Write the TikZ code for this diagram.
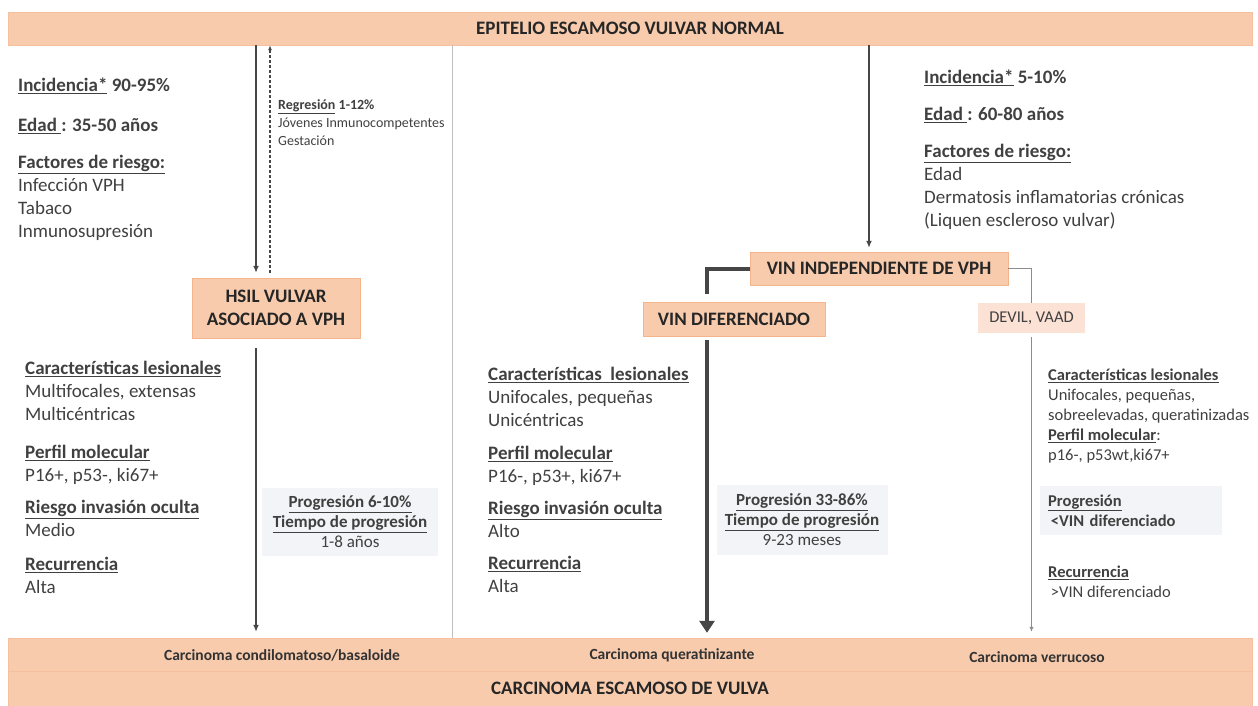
\documentclass[tikz,border=0pt]{standalone}
\usepackage{fontspec}
\setmainfont{Carlito}
\usetikzlibrary{positioning,arrows.meta}
\definecolor{peach}{RGB}{248,203,173}
\definecolor{peachline}{RGB}{244,180,140}
\definecolor{peachedge}{RGB}{246,192,158}
\definecolor{peachlight}{RGB}{251,226,213}
\definecolor{greybox}{RGB}{242,244,247}
\definecolor{txt}{RGB}{64,64,64}
\definecolor{arrowgrey}{RGB}{70,70,70}
\definecolor{lightline}{RGB}{140,140,140}
\newcommand{\hd}[1]{\textbf{\underline{#1}}}

\begin{document}
\begin{tikzpicture}[x=1pt,y=-1pt,
    bar/.style    = {draw=peachedge, fill=peach, minimum width=1244pt, inner sep=0pt, text=black!85},
    block/.style  = {draw=peachline, fill=peach, inner sep=0pt, align=center, text=black!85,
                     font=\fontsize{19}{23}\selectfont\bfseries},
    soft/.style   = {fill=peachlight, inner sep=0pt, text=txt, font=\fontsize{16.5}{20}\selectfont},
    greyb/.style  = {fill=greybox, inner sep=0pt, align=center, text=txt, font=\fontsize{17}{20}\selectfont},
    info/.style   = {anchor=north west, align=left, inner sep=0pt, text=txt, font=\fontsize{19}{23}\selectfont},
    infos/.style  = {anchor=north west, align=left, inner sep=0pt, text=txt, font=\fontsize{16.5}{20}\selectfont},
    carc/.style   = {inner sep=0pt, text=black!80, font=\fontsize{15.5}{18}\selectfont\bfseries},
    arr/.style    = {draw=arrowgrey, line width=2pt, -{Latex[length=7pt,width=6pt]}},
    dasharr/.style= {draw=arrowgrey, line width=1.2pt, dash pattern=on 3pt off 2pt, -{Latex[length=5pt,width=4pt]}},
    thickl/.style = {draw=arrowgrey, line width=4pt},
    arrthick/.style = {draw=arrowgrey, line width=4pt, -{Triangle[length=12pt,width=15pt]}},
    thinl/.style  = {draw=lightline, line width=1.3pt},
    arrthin/.style= {draw=lightline, line width=1.3pt, -{Latex[length=5pt,width=4.5pt]}},
    divl/.style   = {draw=black!25, line width=0.9pt}]

  \useasboundingbox (0,0) rectangle (1258,706);

  % bars
  \draw (630,28.5) node[bar, minimum height=33pt, font=\fontsize{19}{23}\selectfont\bfseries] (top) {EPITELIO ESCAMOSO VULVAR NORMAL};
  \draw (630,654.5) node[bar, minimum height=33pt] (sub) {};
  \draw (630,688.5) node[bar, minimum height=35pt, font=\fontsize{19}{23}\selectfont\bfseries] (bot) {CARCINOMA ESCAMOSO DE VULVA};
  \draw (282,655) node[carc] (c1) {Carcinoma condilomatoso/basaloide};
  \draw (672,655) node[carc] (c2) {Carcinoma queratinizante};
  \draw (1037,657) node[carc] (c3) {Carcinoma verrucoso};

  % boxes
  \draw (276,308) node[block, minimum width=168pt, minimum height=60pt] (hsil) {HSIL VULVAR\\ASOCIADO A VPH};
  \draw (879,268.5) node[block, minimum width=258pt, minimum height=33pt] (vinind) {VIN INDEPENDIENTE DE VPH};
  \draw (734,319) node[block, minimum width=182pt, minimum height=34pt] (vindif) {VIN DIFERENCIADO};
  \draw (1031.5,318) node[soft, minimum width=107pt, minimum height=30pt] (devil) {DEVIL, VAAD};

  % grey boxes
  \draw (350,522) node[greyb, minimum width=176pt, minimum height=68pt] (prog1)
    {\hd{Progresión 6-10\%}\\ \hd{Tiempo de progresión}\\ 1-8 años};
  \draw (802,520) node[greyb, minimum width=171pt, minimum height=70pt] (prog2)
    {\hd{Progresión 33-86\%}\\ \hd{Tiempo de progresión}\\ 9-23 meses};
  \draw (1040,486) node[greyb, anchor=north west, align=left, text width=166pt, inner xsep=8pt,
    minimum height=49pt, font=\fontsize{16.5}{20}\selectfont] (prog3)
    {\hd{Progresión}\\ \textbf{\,<VIN diferenciado}};

  % texts
  \draw (18,78) node[info] (epiL)
    {\textbf{\underline{Incidencia*} 90-95\%}\\[17pt]
     \textbf{\underline{Edad }: 35-50 años}\\[14pt]
     \hd{Factores de riesgo:}\\
     Infección VPH\\ Tabaco\\ Inmunosupresión};
  \draw (924,70) node[info] (epiR)
    {\textbf{\underline{Incidencia*} 5-10\%}\\[14pt]
     \textbf{\underline{Edad }: 60-80 años}\\[14pt]
     \hd{Factores de riesgo:}\\
     Edad\\ Dermatosis inflamatorias crónicas\\ (Liquen escleroso vulvar)};
  \draw (278,99) node[info, font=\fontsize{14}{18}\selectfont] (regr)
    {\textbf{\underline{Regresión} 1-12\%}\\ Jóvenes Inmunocompetentes\\ Gestación};
  \draw (25,361) node[info] (carL)
    {\hd{Características lesionales}\\
     Multifocales, extensas\\ Multicéntricas\\[15pt]
     \hd{Perfil molecular}\\ P16+, p53-, ki67+\\[9pt]
     \hd{Riesgo invasión oculta}\\ Medio\\[11pt]
     \hd{Recurrencia}\\ Alta};
  \draw (488,367) node[info] (carM)
    {\hd{Características\ \ lesionales}\\
     Unifocales, pequeñas\\ Unicéntricas\\[10pt]
     \hd{Perfil molecular}\\ P16-, p53+, ki67+\\[9pt]
     \hd{Riesgo invasión oculta}\\ Alto\\[9pt]
     \hd{Recurrencia}\\ Alta};
  \draw (1048,369) node[infos] (carR)
    {\hd{Características lesionales}\\
     Unifocales, pequeñas,\\ sobreelevadas, queratinizadas\\
     \hd{Perfil molecular}:\\ p16-, p53wt,ki67+};
  \draw (1048,566) node[infos] (recR)
    {\hd{Recurrencia}\\ \,>VIN diferenciado};

  % connectors
  \coordinate (xl) at (256,0);
  \coordinate (xd) at (270,0);
  \coordinate (xm) at (707,0);
  \coordinate (xr) at (869,0);
  \coordinate (xdiv) at (452,0);
  \draw [divl] (top.south -| xdiv) -- (sub.north -| xdiv);
  \draw [arr] (top.south -| xl) -- ([yshift=5pt]hsil.north -| xl);
  \draw [dasharr] ([yshift=5pt]hsil.north -| xd) -- (top.south -| xd);
  \draw [arr, shorten >=6pt] ([yshift=-10pt]hsil.south -| xl) -- (sub.north -| xl);
  \draw [arr, line width=1.6pt, shorten >=4pt] (top.south -| xr) -- (vinind.north -| xr);
  \draw [thickl] (vinind.west) -| ([yshift=8pt]vindif.north -| xm);
  \draw [arrthick, shorten >=5pt] ([yshift=-4pt]vindif.south -| xm) -- (sub.north -| xm);
  \draw [thinl] (vinind.east) -| (devil.north);
  \draw [arrthin, shorten >=6pt] ([yshift=-4pt]devil.south) -- (sub.north -| devil.south);

\end{tikzpicture}
\end{document}
